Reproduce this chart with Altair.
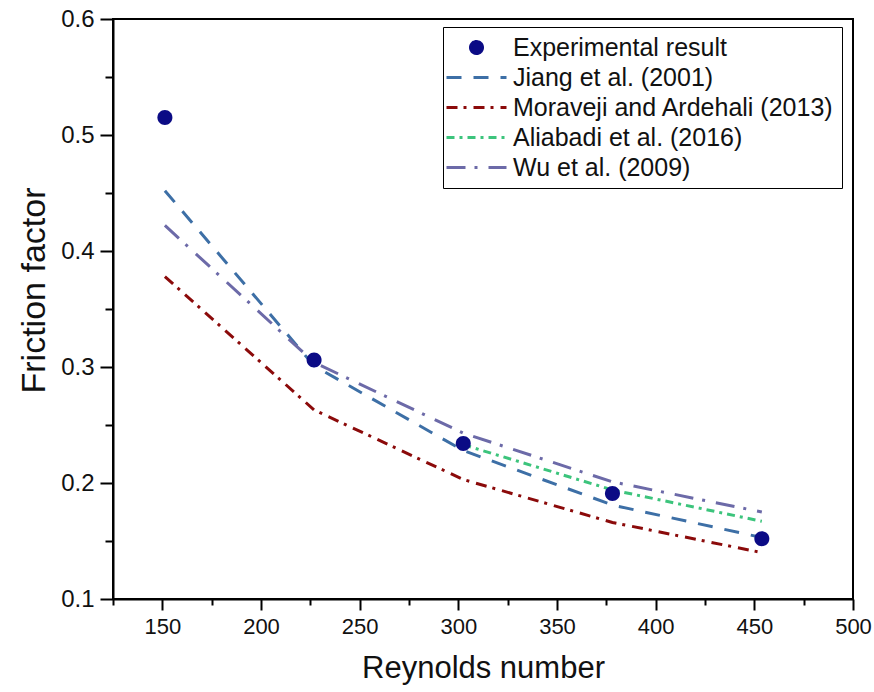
import altair as alt
import pandas as pd

# ---- data ----
series_names = ["Experimental result", "Jiang et al. (2001)", "Moraveji and Ardehali (2013)",
                "Aliabadi et al. (2016)", "Wu et al. (2009)"]
series_colors = ["#0b0b85", "#3d6fa6", "#8b0a0a", "#3cc47c", "#6c6aa8"]
series_dashes = [[1, 0], [15, 12], [11, 6, 3, 7], [8, 5, 3, 5], [19, 9, 3, 11]]

reynolds = [151.3, 226.9, 302.5, 378.1, 453.8]
experimental = [0.515, 0.306, 0.234, 0.191, 0.152]
jiang = [0.452, 0.301, 0.228, 0.181, 0.153]
moraveji = [0.378, 0.263, 0.203, 0.166, 0.140]
aliabadi_re = [302.5, 378.1, 453.8]
aliabadi = [0.233, 0.194, 0.167]
wu = [0.422, 0.304, 0.243, 0.201, 0.175]

x_ticks = list(range(125, 501, 25))
y_ticks = [round(0.1 + 0.05 * i, 2) for i in range(11)]

# legend symbols: a filled dot for the measurements, a long stroke for the correlations
LINE_PATH = "M-2.5,0H2.5"
DOT_PATH = "M-0.5,0A0.5,0.5 0 1,0 0.5,0A0.5,0.5 0 1,0 -0.5,0Z"
series_shapes = [DOT_PATH, LINE_PATH, LINE_PATH, LINE_PATH, LINE_PATH]

# ---- tables ----
exp_df = pd.DataFrame({"Re": reynolds, "f": experimental, "series": series_names[0]})
rows = []
for name, xs, ys in [(series_names[1], reynolds, jiang),
                     (series_names[2], reynolds, moraveji),
                     (series_names[3], aliabadi_re, aliabadi),
                     (series_names[4], reynolds, wu)]:
    for xv, yv in zip(xs, ys):
        rows.append({"Re": xv, "f": yv, "series": name})
line_df = pd.DataFrame(rows)

legend = alt.Legend(
    title=None, orient="none", legendX=330, legendY=8,
    fillColor="white", strokeColor="black", padding=7,
    labelFont="Liberation Sans", labelFontSize=25, labelColor="#111",
    symbolSize=576, symbolOffset=13, labelOffset=23, rowPadding=3,
    symbolStrokeWidth=3, labelLimit=500, symbolOpacity=1,
)

x_enc = alt.X("Re:Q", scale=alt.Scale(domain=[125, 500], nice=False, zero=False),
              axis=alt.Axis(title="Reynolds number", values=x_ticks,
                            labelExpr="datum.value % 50 === 0 ? datum.label : ''",
                            tickSize={"condition": {"test": "datum.value % 50 === 0", "value": 11}, "value": 6},
                            labelFlush=False, labelOverlap=False, labelPadding=6,
                            titlePadding=16, titleFontSize=31))
y_enc = alt.Y("f:Q", scale=alt.Scale(domain=[0.1, 0.6], nice=False, zero=False),
              axis=alt.Axis(title="Friction factor", values=y_ticks, format=".1f",
                            labelExpr="abs(datum.value * 10 - round(datum.value * 10)) < 0.001 ? datum.label : ''",
                            tickSize={"condition": {"test": "abs(datum.value * 10 - round(datum.value * 10)) < 0.001", "value": 13}, "value": 8},
                            labelFlush=False, labelOverlap=False, labelPadding=6, labelFontSize=24,
                            titlePadding=9, titleFontSize=34, titleY=271))
color_enc = alt.Color("series:N", scale=alt.Scale(domain=series_names, range=series_colors), legend=legend)
dash_enc = alt.StrokeDash("series:N", scale=alt.Scale(domain=series_names, range=series_dashes), legend=legend)
shape_enc = alt.Shape("series:N", scale=alt.Scale(domain=series_names, range=series_shapes), legend=legend)

lines = alt.Chart(line_df).mark_line(strokeWidth=3).encode(
    x=x_enc, y=y_enc, color=color_enc, strokeDash=dash_enc,
)
points = alt.Chart(exp_df).mark_point(size=900, opacity=1, filled=True).encode(
    x=x_enc, y=y_enc, color=color_enc, shape=shape_enc,
)

chart = alt.layer(lines, points).properties(
    width=740, height=580,
    autosize=alt.AutoSizeParams(type="none"),
    padding={"left": 113, "top": 19, "right": 21, "bottom": 93},
    background="white",
).configure_view(stroke="black", strokeWidth=2).configure_axis(
    domainColor="black", domainWidth=2, tickColor="black", tickWidth=2,
    labelFont="Liberation Sans", labelFontSize=22, labelColor="#111",
    titleFont="Liberation Sans", titleFontWeight="normal", titleColor="#111",
    grid=False,
)

chart.save("out.html", embed_options={"renderer": "svg", "actions": False})
